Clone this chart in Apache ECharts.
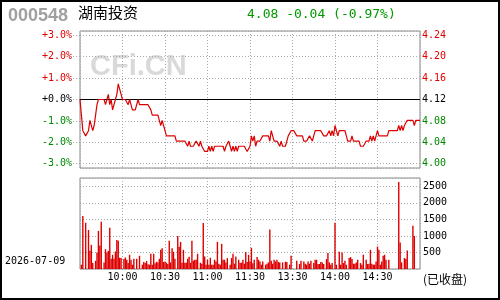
<!DOCTYPE html>
<html lang="zh">
<head>
    <meta charset="UTF-8">
    <title>000548 湖南投资</title>
    <script src="https://cdn.jsdelivr.net/npm/echarts@6/dist/echarts.min.js"></script>
    <style>
        body { margin: 0; background: #fff; }
        #main { width: 500px; height: 300px; }
    </style>
</head>
<body>
<div id="main"></div>
<script>
    // 昨收
    const preClose = 4.12;

    // 分时价格, 每分钟一个点 (9:30 - 11:30, 13:00 - 15:00)
    const prices = [
        4.12, 4.09, 4.06, 4.06, 4.05, 4.05, 4.06, 4.08, 4.08, 4.06,
        4.07, 4.09, 4.11, 4.12, 4.12, 4.12, 4.12, 4.12, 4.11, 4.11,
        4.13, 4.11, 4.12, 4.10, 4.11, 4.12, 4.13, 4.15, 4.15, 4.13,
        4.12, 4.12, 4.12, 4.12, 4.11, 4.12, 4.11, 4.10, 4.10, 4.10,
        4.10, 4.12, 4.11, 4.11, 4.11, 4.11, 4.11, 4.11, 4.11, 4.11,
        4.10, 4.09, 4.09, 4.09, 4.09, 4.09, 4.08, 4.07, 4.08, 4.07,
        4.06, 4.05, 4.05, 4.05, 4.05, 4.05, 4.05, 4.05, 4.04, 4.04,
        4.04, 4.04, 4.04, 4.04, 4.04, 4.04, 4.03, 4.04, 4.03, 4.03,
        4.03, 4.03, 4.04, 4.04, 4.03, 4.04, 4.03, 4.03, 4.02, 4.02,
        4.02, 4.03, 4.02, 4.03, 4.02, 4.03, 4.03, 4.03, 4.03, 4.03,
        4.03, 4.03, 4.02, 4.03, 4.03, 4.04, 4.03, 4.02, 4.03, 4.02,
        4.03, 4.02, 4.03, 4.03, 4.03, 4.03, 4.03, 4.03, 4.02, 4.02,
        4.03, 4.05, 4.04, 4.05, 4.03, 4.04, 4.04, 4.04, 4.04, 4.05,
        4.05, 4.05, 4.05, 4.05, 4.04, 4.06, 4.06, 4.04, 4.04, 4.04,
        4.04, 4.03, 4.04, 4.03, 4.03, 4.03, 4.04, 4.05, 4.05, 4.06,
        4.06, 4.06, 4.06, 4.05, 4.05, 4.05, 4.05, 4.05, 4.04, 4.04,
        4.04, 4.04, 4.05, 4.05, 4.04, 4.05, 4.06, 4.06, 4.06, 4.06,
        4.06, 4.06, 4.05, 4.05, 4.05, 4.05, 4.06, 4.05, 4.06, 4.05,
        4.07, 4.07, 4.05, 4.06, 4.06, 4.06, 4.06, 4.06, 4.05, 4.04,
        4.04, 4.04, 4.05, 4.04, 4.04, 4.04, 4.04, 4.04, 4.03, 4.03,
        4.03, 4.03, 4.04, 4.04, 4.04, 4.05, 4.04, 4.05, 4.04, 4.05,
        4.06, 4.05, 4.05, 4.05, 4.05, 4.05, 4.05, 4.05, 4.06, 4.06,
        4.06, 4.06, 4.06, 4.06, 4.06, 4.07, 4.06, 4.07, 4.06, 4.07,
        4.07, 4.08, 4.08, 4.08, 4.08, 4.08, 4.07, 4.08, 4.08, 4.08, 4.08
    ];

    // 成交量: 分钟序号 + 手数
    const volMinutes = [
        1, 2, 4, 6, 7, 8, 9, 11, 12, 13, 14, 15, 17, 18, 19, 20, 21, 22, 23, 24,
        25, 26, 27, 28, 29, 31, 32, 33, 34, 35, 36, 37, 38, 40, 42, 44, 45, 46, 47, 48,
        49, 50, 51, 52, 53, 54, 55, 56, 57, 58, 59, 60, 61, 62, 63, 64, 65, 66, 67, 69,
        70, 71, 72, 73, 74, 75, 76, 77, 78, 79, 80, 81, 82, 83, 85, 86, 87, 88, 89, 90,
        91, 92, 93, 94, 95, 96, 97, 98, 99, 100, 101, 102, 103, 104, 106, 107, 108, 109, 110, 112,
        113, 114, 115, 116, 117, 118, 119, 120, 121, 122, 123, 125, 126, 127, 128, 129, 131, 132, 133, 134,
        135, 136, 137, 138, 139, 140, 141, 143, 145, 146, 148, 149, 153, 155, 156, 158, 159, 160, 161, 162,
        163, 165, 166, 167, 168, 169, 170, 171, 172, 174, 175, 176, 177, 178, 180, 181, 183, 184, 185, 186,
        187, 188, 190, 191, 192, 193, 194, 195, 196, 198, 199, 200, 202, 203, 204, 205, 206, 207, 208, 209,
        210, 211, 212, 213, 214, 215, 216, 218, 225, 226, 227, 229, 230, 231, 235, 236
    ];
    const volumes = [
        130, 1600, 1400, 1180, 550, 730, 180, 250, 500, 1150, 710, 1430, 200, 600, 500, 550, 1250, 310, 430, 310,
        530, 880, 850, 340, 330, 300, 350, 280, 180, 430, 280, 130, 310, 310, 400, 130, 210, 180, 240, 140,
        130, 460, 130, 460, 170, 220, 200, 310, 580, 630, 210, 230, 190, 150, 850, 200, 630, 520, 310, 1000,
        670, 820, 190, 580, 190, 190, 310, 370, 190, 850, 250, 280, 280, 460, 190, 160, 1390, 380, 130, 280,
        130, 340, 130, 130, 280, 230, 820, 160, 130, 760, 280, 280, 200, 330, 130, 330, 460, 160, 380, 280,
        190, 190, 280, 160, 510, 210, 430, 230, 640, 170, 280, 360, 280, 230, 130, 230, 130, 160, 200, 1190,
        250, 160, 280, 230, 280, 210, 200, 200, 220, 210, 130, 400, 250, 150, 250, 230, 160, 130, 230, 160,
        250, 180, 280, 280, 150, 150, 210, 200, 150, 300, 480, 200, 130, 180, 1400, 130, 520, 130, 500, 180,
        250, 130, 330, 360, 300, 160, 160, 200, 280, 180, 130, 430, 280, 150, 160, 580, 160, 130, 130, 230,
        680, 580, 130, 230, 400, 430, 280, 280, 2630, 800, 200, 330, 300, 560, 1310, 1000
    ];

    // 时间轴标签 (每30分钟)
    const timeLabels = ['', '10:00', '10:30', '11:00', '11:30', '13:30', '14:00', '14:30', ''];

    const RED = '#dd0000';
    const GREEN = '#008800';
    const MONO = '"DejaVu Sans Mono", monospace';

    const chart = echarts.init(document.getElementById('main'));

    function isWhole(v) {
        return Math.abs(v - Math.round(v)) < 1e-6;
    }
    function pctColor(v) {
        v = Number(v);
        if (Math.abs(v) < 1e-6) return '#000000';
        return v > 0 ? RED : GREEN;
    }

    const pctData = prices.map(function (p, i) {
        return [i, +((p / preClose - 1) * 100).toFixed(4)];
    });
    const volData = volMinutes.map(function (m, i) {
        return [m, volumes[i]];
    });

    const dotted = {color: '#aaaaaa', type: [1, 2], width: 1};

    chart.setOption({
        animation: false,
        backgroundColor: '#ffffff',
        grid: [
            {left: 80, right: 80, top: 31, height: 137, show: true, borderColor: '#888', borderWidth: 1},
            {left: 80, right: 80, top: 178, height: 91, show: true, borderColor: '#888', borderWidth: 1}
        ],
        xAxis: [
            {
                type: 'value', gridIndex: 0, min: 0, max: 240, interval: 30,
                axisLine: {show: false}, axisTick: {show: false}, axisLabel: {show: false},
                splitLine: {show: true, lineStyle: dotted}
            },
            {
                type: 'value', gridIndex: 1, min: 0, max: 240, interval: 30,
                axisLine: {show: false}, axisTick: {show: false},
                axisLabel: {
                    margin: 3, fontFamily: MONO, fontSize: 10, color: '#000',
                    formatter: function (v) { return timeLabels[Math.round(v / 30)] || ''; }
                },
                splitLine: {show: true, lineStyle: dotted}
            }
        ],
        yAxis: [
            {
                type: 'value', gridIndex: 0, min: -3.2, max: 3.2, splitNumber: 6, position: 'left',
                axisLine: {show: false},
                axisTick: {show: true, length: 7, lineStyle: dotted},
                axisLabel: {
                    margin: 8, fontFamily: MONO, fontSize: 10,
                    showMinLabel: false, showMaxLabel: false,
                    color: function (v) { return pctColor(v); },
                    formatter: function (v) {
                        if (!isWhole(v)) return '';
                        return (v >= 0 ? '+' : '') + v.toFixed(1) + '%';
                    }
                },
                splitLine: {show: true, lineStyle: dotted}
            },
            {
                type: 'value', gridIndex: 0, min: -3.2, max: 3.2, splitNumber: 6, position: 'right',
                axisLine: {show: false}, axisTick: {show: false},
                axisLabel: {
                    margin: 2, fontFamily: MONO, fontSize: 10,
                    showMinLabel: false, showMaxLabel: false,
                    color: function (v) { return pctColor(v); },
                    formatter: function (v) {
                        if (!isWhole(v)) return '';
                        return (preClose * (1 + v / 100)).toFixed(2);
                    }
                },
                splitLine: {show: false}
            },
            {
                type: 'value', gridIndex: 1, min: 0, max: 2750, interval: 500, position: 'right',
                axisLine: {show: false}, axisTick: {show: false},
                axisLabel: {
                    margin: 3, fontFamily: MONO, fontSize: 10, color: '#000',
                    formatter: function (v) { return (v > 0 && v % 500 === 0) ? String(v) : ''; }
                },
                splitLine: {show: true, lineStyle: dotted}
            }
        ],
        graphic: [
            {type: 'text', left: 90, top: 52, z: 0, silent: true,
                style: {text: 'CFi.CN', font: 'bold 29px "Liberation Sans", Arial', fill: '#d9d9d9'}},
            {type: 'text', left: 8, top: 7,
                style: {text: '000548', font: 'bold 18px "Liberation Sans", Arial', fill: '#a0a0a0'}},
            {type: 'text', left: 78, top: 5,
                style: {text: '湖南投资', font: '15px "Noto Sans CJK SC"', fill: '#000'}},
            {type: 'text', left: 247, top: 8,
                style: {text: '4.08 -0.04 (-0.97%)', font: '13px ' + MONO, fill: '#009900'}},
            {type: 'text', left: 5, top: 256,
                style: {text: '2026-07-09', font: '10px ' + MONO, fill: '#000'}},
            {type: 'text', left: 423, top: 273,
                style: {text: '(已收盘)', font: '12px "Noto Sans CJK SC"', fill: '#000'}},
            {type: 'rect', z: 100, silent: true,
                shape: {x: 1, y: 1, width: 498, height: 298},
                style: {fill: 'none', stroke: '#000', lineWidth: 2}}
        ],
        series: [
            {
                name: '价格', type: 'line', xAxisIndex: 0, yAxisIndex: 0,
                data: pctData, showSymbol: false, z: 5,
                lineStyle: {color: RED, width: 1.2},
                markLine: {
                    silent: true, symbol: ['none', 'none'], label: {show: false},
                    lineStyle: {color: '#000', type: 'solid', width: 1},
                    data: [{yAxis: 0}]
                }
            },
            {
                name: '成交量', type: 'bar', xAxisIndex: 1, yAxisIndex: 2,
                data: volData, barWidth: 1.4,
                itemStyle: {color: RED}
            }
        ]
    });
</script>
</body>
</html>
